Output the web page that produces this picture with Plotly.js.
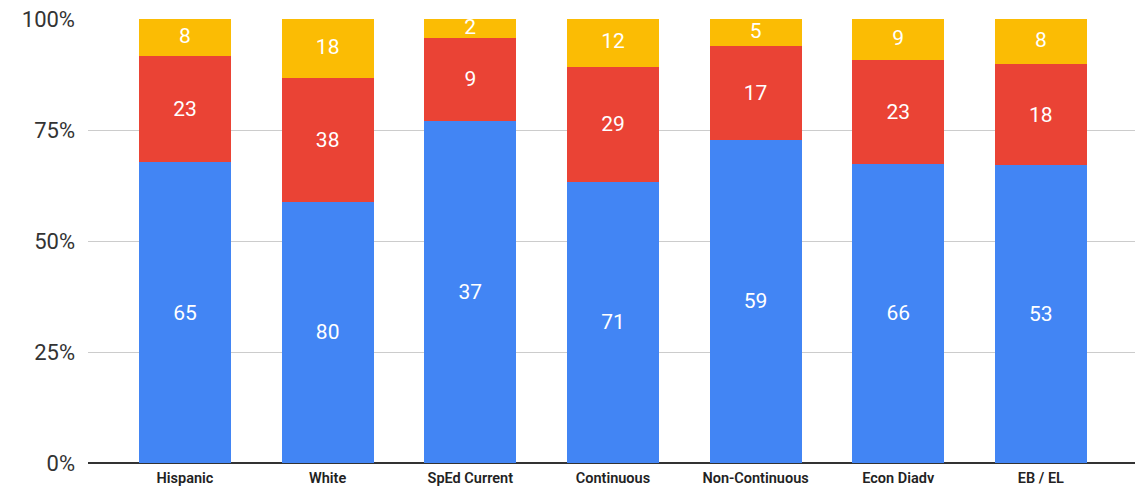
<!DOCTYPE html>
<html>
<head>
<meta charset="utf-8">
<script src="https://cdn.plot.ly/plotly-3.0.1.min.js"></script>
<style>html,body{margin:0;padding:0;background:#fff}#chart{width:1135px;height:500px}</style>
</head>
<body>
<div id="chart"></div>
<script>
const categories = ["Hispanic", "White", "SpEd Current", "Continuous", "Non-Continuous", "Econ Diadv", "EB / EL"];
const blueValues = [65, 80, 37, 71, 59, 66, 53];
const redValues = [23, 38, 9, 29, 17, 23, 18];
const yellowValues = [8, 18, 2, 12, 5, 9, 8];
const yTickVals = [0, 25, 50, 75, 100];
const yTickText = ["0%", "25%", "50%", "75%", "100%"];

const labelFont = {family: 'Roboto', size: 21, color: '#ffffff'};

function series(vals, color, withText) {
  const t = {
    type: 'bar',
    x: categories,
    y: vals,
    marker: {color: color, line: {width: 0}},
    width: 0.645,
    hoverinfo: 'none'
  };
  if (withText) {
    t.text = vals.map(String);
    t.textposition = 'inside';
    t.insidetextanchor = 'middle';
    t.textangle = 0;
    t.textfont = labelFont;
  } else {
    t.textposition = 'none';
  }
  return t;
}

// yellow labels: centre of the yellow segment, in percent of each bar's total
const yellowMid = categories.map((c, i) => {
  const total = blueValues[i] + redValues[i] + yellowValues[i];
  return (blueValues[i] + redValues[i] + yellowValues[i] / 2) / total * 100;
});

const data = [
  series(blueValues, '#4285F4', true),
  series(redValues, '#EA4335', true),
  series(yellowValues, '#FBBC04', false),
  {
    type: 'scatter',
    mode: 'text',
    x: categories,
    y: yellowMid,
    text: yellowValues.map(String),
    textposition: 'middle center',
    textfont: labelFont,
    cliponaxis: false,
    hoverinfo: 'none'
  }
];

const layout = {
  width: 1135, height: 500,
  margin: {l: 88, r: 0, t: 19, b: 37},
  barmode: 'stack',
  barnorm: 'percent',
  showlegend: false,
  paper_bgcolor: '#fff',
  plot_bgcolor: '#fff',
  xaxis: {
    range: [-0.68, 6.66],
    tickfont: {family: 'Roboto', size: 14.5, color: '#222', weight: 600},
    showgrid: false,
    showline: false,
    zeroline: false,
    ticks: '',
    ticklabelstandoff: 4
  },
  yaxis: {
    range: [0, 100],
    tickvals: yTickVals,
    ticktext: yTickText,
    tickfont: {family: 'Roboto', size: 22, color: '#333'},
    showgrid: true,
    gridcolor: '#cccccc',
    gridwidth: 1,
    zeroline: true,
    zerolinecolor: '#333333',
    zerolinewidth: 1.5,
    ticks: '',
    ticklabelstandoff: 12
  }
};

Plotly.newPlot('chart', data, layout, {displayModeBar: false, staticPlot: true});
</script>
</body>
</html>
